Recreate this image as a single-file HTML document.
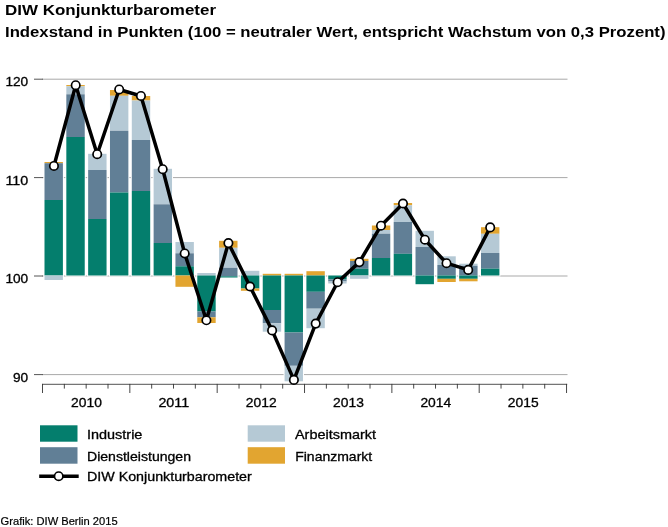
<!DOCTYPE html>
<html lang="de"><head><meta charset="utf-8"><title>DIW Konjunkturbarometer</title>
<style>html,body{margin:0;padding:0;background:#fff}svg{display:block}text{font-family:"Liberation Sans",sans-serif;fill:#000}</style></head><body>
<svg width="668" height="527" viewBox="0 0 668 527">
<rect width="668" height="527" fill="#fff"/>
<text x="5.0" y="15.1" font-size="14.9" font-weight="bold" textLength="211" lengthAdjust="spacingAndGlyphs">DIW Konjunkturbarometer</text>
<text x="5.0" y="36.6" font-size="14.9" font-weight="bold" textLength="660.5" lengthAdjust="spacingAndGlyphs">Indexstand in Punkten (100 = neutraler Wert, entspricht Wachstum von 0,3 Prozent)</text>
<line x1="42" x2="567.5" y1="79.2" y2="79.2" stroke="#a9a9a9" stroke-width="1"/>
<line x1="34" x2="43" y1="79.2" y2="79.2" stroke="#555" stroke-width="1"/>
<text x="5.4" y="86.1" font-size="12.7" stroke="#000" stroke-width="0.3" textLength="22.799999999999997" lengthAdjust="spacingAndGlyphs">120</text>
<line x1="42" x2="567.5" y1="177.6" y2="177.6" stroke="#a9a9a9" stroke-width="1"/>
<line x1="34" x2="43" y1="177.6" y2="177.6" stroke="#555" stroke-width="1"/>
<text x="5.4" y="184.5" font-size="12.7" stroke="#000" stroke-width="0.3" textLength="22.799999999999997" lengthAdjust="spacingAndGlyphs">110</text>
<line x1="42" x2="567.5" y1="276.0" y2="276.0" stroke="#a9a9a9" stroke-width="1"/>
<line x1="34" x2="43" y1="276.0" y2="276.0" stroke="#555" stroke-width="1"/>
<text x="5.4" y="282.9" font-size="12.7" stroke="#000" stroke-width="0.3" textLength="22.799999999999997" lengthAdjust="spacingAndGlyphs">100</text>
<line x1="42" x2="567.5" y1="374.6" y2="374.6" stroke="#a9a9a9" stroke-width="1"/>
<line x1="34" x2="43" y1="374.6" y2="374.6" stroke="#555" stroke-width="1"/>
<text x="13.0" y="381.5" font-size="12.7" stroke="#000" stroke-width="0.3" textLength="15.2" lengthAdjust="spacingAndGlyphs">90</text>
<rect x="43.50" y="161.00" width="20.40" height="120.00" fill="#fff"/>
<rect x="44.50" y="162.00" width="18.4" height="1.20" fill="#e2a530"/>
<rect x="44.50" y="163.20" width="18.4" height="36.80" fill="#617f96"/>
<rect x="44.50" y="200.00" width="18.4" height="75.50" fill="#047e6d"/>
<rect x="44.50" y="275.50" width="18.4" height="4.50" fill="#b5c9d5"/>
<rect x="65.33" y="84.00" width="20.40" height="192.50" fill="#fff"/>
<rect x="66.33" y="85.00" width="18.4" height="1.30" fill="#e2a530"/>
<rect x="66.33" y="86.30" width="18.4" height="8.00" fill="#b5c9d5"/>
<rect x="66.33" y="94.30" width="18.4" height="42.70" fill="#617f96"/>
<rect x="66.33" y="137.00" width="18.4" height="138.50" fill="#047e6d"/>
<rect x="87.15" y="152.80" width="20.40" height="123.70" fill="#fff"/>
<rect x="88.15" y="153.80" width="18.4" height="16.20" fill="#b5c9d5"/>
<rect x="88.15" y="170.00" width="18.4" height="49.00" fill="#617f96"/>
<rect x="88.15" y="219.00" width="18.4" height="56.50" fill="#047e6d"/>
<rect x="108.97" y="89.00" width="20.40" height="187.50" fill="#fff"/>
<rect x="109.97" y="90.00" width="18.4" height="5.80" fill="#e2a530"/>
<rect x="109.97" y="95.80" width="18.4" height="35.00" fill="#b5c9d5"/>
<rect x="109.97" y="130.80" width="18.4" height="61.70" fill="#617f96"/>
<rect x="109.97" y="192.50" width="18.4" height="83.00" fill="#047e6d"/>
<rect x="130.80" y="95.00" width="20.40" height="181.50" fill="#fff"/>
<rect x="131.80" y="96.00" width="18.4" height="4.50" fill="#e2a530"/>
<rect x="131.80" y="100.50" width="18.4" height="39.50" fill="#b5c9d5"/>
<rect x="131.80" y="140.00" width="18.4" height="51.00" fill="#617f96"/>
<rect x="131.80" y="191.00" width="18.4" height="84.50" fill="#047e6d"/>
<rect x="152.62" y="167.80" width="20.40" height="108.70" fill="#fff"/>
<rect x="153.62" y="168.80" width="18.4" height="35.50" fill="#b5c9d5"/>
<rect x="153.62" y="204.30" width="18.4" height="38.70" fill="#617f96"/>
<rect x="153.62" y="243.00" width="18.4" height="32.50" fill="#047e6d"/>
<rect x="174.45" y="241.00" width="20.40" height="46.80" fill="#fff"/>
<rect x="175.45" y="242.00" width="18.4" height="11.30" fill="#b5c9d5"/>
<rect x="175.45" y="253.30" width="18.4" height="13.00" fill="#617f96"/>
<rect x="175.45" y="266.30" width="18.4" height="9.20" fill="#047e6d"/>
<rect x="175.45" y="275.50" width="18.4" height="11.30" fill="#e2a530"/>
<rect x="196.28" y="272.00" width="20.40" height="52.00" fill="#fff"/>
<rect x="197.28" y="273.00" width="18.4" height="2.50" fill="#b5c9d5"/>
<rect x="197.28" y="275.50" width="18.4" height="36.00" fill="#047e6d"/>
<rect x="197.28" y="311.50" width="18.4" height="5.80" fill="#617f96"/>
<rect x="197.28" y="317.30" width="18.4" height="5.70" fill="#e2a530"/>
<rect x="218.10" y="239.80" width="20.40" height="38.70" fill="#fff"/>
<rect x="219.10" y="240.80" width="18.4" height="7.00" fill="#e2a530"/>
<rect x="219.10" y="247.80" width="18.4" height="20.00" fill="#b5c9d5"/>
<rect x="219.10" y="267.80" width="18.4" height="8.50" fill="#617f96"/>
<rect x="219.10" y="276.30" width="18.4" height="1.20" fill="#047e6d"/>
<rect x="239.92" y="269.80" width="20.40" height="22.00" fill="#fff"/>
<rect x="240.92" y="270.80" width="18.4" height="4.70" fill="#b5c9d5"/>
<rect x="240.92" y="275.50" width="18.4" height="13.00" fill="#047e6d"/>
<rect x="240.92" y="288.50" width="18.4" height="2.30" fill="#e2a530"/>
<rect x="261.75" y="272.80" width="20.40" height="59.90" fill="#fff"/>
<rect x="262.75" y="273.80" width="18.4" height="1.70" fill="#e2a530"/>
<rect x="262.75" y="275.50" width="18.4" height="34.50" fill="#047e6d"/>
<rect x="262.75" y="310.00" width="18.4" height="13.30" fill="#617f96"/>
<rect x="262.75" y="323.30" width="18.4" height="8.40" fill="#b5c9d5"/>
<rect x="283.57" y="272.80" width="20.40" height="109.50" fill="#fff"/>
<rect x="284.57" y="273.80" width="18.4" height="1.70" fill="#e2a530"/>
<rect x="284.57" y="275.50" width="18.4" height="57.00" fill="#047e6d"/>
<rect x="284.57" y="332.50" width="18.4" height="33.30" fill="#617f96"/>
<rect x="284.57" y="365.80" width="18.4" height="15.50" fill="#b5c9d5"/>
<rect x="305.40" y="270.20" width="20.40" height="59.00" fill="#fff"/>
<rect x="306.40" y="271.20" width="18.4" height="4.30" fill="#e2a530"/>
<rect x="306.40" y="275.50" width="18.4" height="16.30" fill="#047e6d"/>
<rect x="306.40" y="291.80" width="18.4" height="16.90" fill="#617f96"/>
<rect x="306.40" y="308.70" width="18.4" height="19.50" fill="#b5c9d5"/>
<rect x="327.22" y="274.50" width="20.40" height="10.00" fill="#fff"/>
<rect x="328.22" y="275.50" width="18.4" height="3.90" fill="#047e6d"/>
<rect x="328.22" y="279.40" width="18.4" height="2.10" fill="#617f96"/>
<rect x="328.22" y="281.50" width="18.4" height="2.00" fill="#b5c9d5"/>
<rect x="349.05" y="257.80" width="20.40" height="22.00" fill="#fff"/>
<rect x="350.05" y="258.80" width="18.4" height="2.20" fill="#e2a530"/>
<rect x="350.05" y="261.00" width="18.4" height="7.80" fill="#617f96"/>
<rect x="350.05" y="268.80" width="18.4" height="6.70" fill="#047e6d"/>
<rect x="350.05" y="275.50" width="18.4" height="3.30" fill="#b5c9d5"/>
<rect x="370.88" y="224.50" width="20.40" height="52.00" fill="#fff"/>
<rect x="371.88" y="225.50" width="18.4" height="4.50" fill="#e2a530"/>
<rect x="371.88" y="230.00" width="18.4" height="3.70" fill="#b5c9d5"/>
<rect x="371.88" y="233.70" width="18.4" height="24.30" fill="#617f96"/>
<rect x="371.88" y="258.00" width="18.4" height="17.50" fill="#047e6d"/>
<rect x="392.70" y="202.00" width="20.40" height="74.50" fill="#fff"/>
<rect x="393.70" y="203.00" width="18.4" height="2.30" fill="#e2a530"/>
<rect x="393.70" y="205.30" width="18.4" height="16.70" fill="#b5c9d5"/>
<rect x="393.70" y="222.00" width="18.4" height="31.80" fill="#617f96"/>
<rect x="393.70" y="253.80" width="18.4" height="21.70" fill="#047e6d"/>
<rect x="414.52" y="229.80" width="20.40" height="55.40" fill="#fff"/>
<rect x="415.52" y="230.80" width="18.4" height="16.20" fill="#b5c9d5"/>
<rect x="415.52" y="247.00" width="18.4" height="28.50" fill="#617f96"/>
<rect x="415.52" y="275.50" width="18.4" height="8.70" fill="#047e6d"/>
<rect x="436.35" y="255.30" width="20.40" height="27.70" fill="#fff"/>
<rect x="437.35" y="256.30" width="18.4" height="8.70" fill="#b5c9d5"/>
<rect x="437.35" y="265.00" width="18.4" height="10.50" fill="#617f96"/>
<rect x="437.35" y="275.50" width="18.4" height="3.30" fill="#047e6d"/>
<rect x="437.35" y="278.80" width="18.4" height="3.20" fill="#e2a530"/>
<rect x="458.18" y="262.70" width="20.40" height="19.60" fill="#fff"/>
<rect x="459.18" y="263.70" width="18.4" height="2.10" fill="#b5c9d5"/>
<rect x="459.18" y="265.80" width="18.4" height="9.70" fill="#617f96"/>
<rect x="459.18" y="275.50" width="18.4" height="3.30" fill="#047e6d"/>
<rect x="459.18" y="278.80" width="18.4" height="2.50" fill="#e2a530"/>
<rect x="480.00" y="226.20" width="20.40" height="50.30" fill="#fff"/>
<rect x="481.00" y="227.20" width="18.4" height="6.60" fill="#e2a530"/>
<rect x="481.00" y="233.80" width="18.4" height="19.20" fill="#b5c9d5"/>
<rect x="481.00" y="253.00" width="18.4" height="15.70" fill="#617f96"/>
<rect x="481.00" y="268.70" width="18.4" height="6.80" fill="#047e6d"/>
<line x1="42" x2="567.2" y1="384.3" y2="384.3" stroke="#333" stroke-width="0.85"/>
<line x1="42.50" x2="42.50" y1="383.9" y2="393" stroke="#333" stroke-width="0.9"/>
<line x1="64.34" x2="64.34" y1="383.9" y2="388.6" stroke="#333" stroke-width="0.9"/>
<line x1="86.17" x2="86.17" y1="383.9" y2="388.6" stroke="#333" stroke-width="0.9"/>
<line x1="108.00" x2="108.00" y1="383.9" y2="388.6" stroke="#333" stroke-width="0.9"/>
<line x1="129.84" x2="129.84" y1="383.9" y2="393" stroke="#333" stroke-width="0.9"/>
<line x1="151.68" x2="151.68" y1="383.9" y2="388.6" stroke="#333" stroke-width="0.9"/>
<line x1="173.51" x2="173.51" y1="383.9" y2="388.6" stroke="#333" stroke-width="0.9"/>
<line x1="195.34" x2="195.34" y1="383.9" y2="388.6" stroke="#333" stroke-width="0.9"/>
<line x1="217.18" x2="217.18" y1="383.9" y2="393" stroke="#333" stroke-width="0.9"/>
<line x1="239.02" x2="239.02" y1="383.9" y2="388.6" stroke="#333" stroke-width="0.9"/>
<line x1="260.85" x2="260.85" y1="383.9" y2="388.6" stroke="#333" stroke-width="0.9"/>
<line x1="282.69" x2="282.69" y1="383.9" y2="388.6" stroke="#333" stroke-width="0.9"/>
<line x1="304.52" x2="304.52" y1="383.9" y2="393" stroke="#333" stroke-width="0.9"/>
<line x1="326.36" x2="326.36" y1="383.9" y2="388.6" stroke="#333" stroke-width="0.9"/>
<line x1="348.19" x2="348.19" y1="383.9" y2="388.6" stroke="#333" stroke-width="0.9"/>
<line x1="370.03" x2="370.03" y1="383.9" y2="388.6" stroke="#333" stroke-width="0.9"/>
<line x1="391.86" x2="391.86" y1="383.9" y2="393" stroke="#333" stroke-width="0.9"/>
<line x1="413.69" x2="413.69" y1="383.9" y2="388.6" stroke="#333" stroke-width="0.9"/>
<line x1="435.53" x2="435.53" y1="383.9" y2="388.6" stroke="#333" stroke-width="0.9"/>
<line x1="457.37" x2="457.37" y1="383.9" y2="388.6" stroke="#333" stroke-width="0.9"/>
<line x1="479.20" x2="479.20" y1="383.9" y2="393" stroke="#333" stroke-width="0.9"/>
<line x1="501.04" x2="501.04" y1="383.9" y2="388.6" stroke="#333" stroke-width="0.9"/>
<line x1="522.87" x2="522.87" y1="383.9" y2="388.6" stroke="#333" stroke-width="0.9"/>
<line x1="544.71" x2="544.71" y1="383.9" y2="388.6" stroke="#333" stroke-width="0.9"/>
<line x1="566.54" x2="566.54" y1="383.9" y2="393" stroke="#333" stroke-width="0.9"/>
<text x="71.1" y="406.8" font-size="12.7" stroke="#000" stroke-width="0.3" textLength="30.8" lengthAdjust="spacingAndGlyphs">2010</text>
<text x="158.4" y="406.8" font-size="12.7" stroke="#000" stroke-width="0.3" textLength="30.8" lengthAdjust="spacingAndGlyphs">2011</text>
<text x="245.8" y="406.8" font-size="12.7" stroke="#000" stroke-width="0.3" textLength="30.8" lengthAdjust="spacingAndGlyphs">2012</text>
<text x="333.1" y="406.8" font-size="12.7" stroke="#000" stroke-width="0.3" textLength="30.8" lengthAdjust="spacingAndGlyphs">2013</text>
<text x="420.4" y="406.8" font-size="12.7" stroke="#000" stroke-width="0.3" textLength="30.8" lengthAdjust="spacingAndGlyphs">2014</text>
<text x="507.8" y="406.8" font-size="12.7" stroke="#000" stroke-width="0.3" textLength="30.8" lengthAdjust="spacingAndGlyphs">2015</text>
<path d="M53.95,165.95 L75.70,85.20 L97.20,154.20 L119.20,89.45 L140.95,95.95 L162.70,169.20 L184.70,253.45 L206.40,320.30 L228.40,243.10 L250.00,286.50 L272.10,330.40 L293.90,379.90 L315.70,323.60 L337.60,282.20 L359.40,262.10 L381.00,225.70 L403.00,203.50 L424.90,239.70 L446.50,263.20 L468.20,269.90 L490.20,227.40" fill="none" stroke="#000" stroke-width="3.5" stroke-linejoin="round"/>
<circle cx="53.95" cy="165.95" r="4.2" fill="#fff" stroke="#000" stroke-width="1.7"/>
<circle cx="75.70" cy="85.20" r="4.2" fill="#fff" stroke="#000" stroke-width="1.7"/>
<circle cx="97.20" cy="154.20" r="4.2" fill="#fff" stroke="#000" stroke-width="1.7"/>
<circle cx="119.20" cy="89.45" r="4.2" fill="#fff" stroke="#000" stroke-width="1.7"/>
<circle cx="140.95" cy="95.95" r="4.2" fill="#fff" stroke="#000" stroke-width="1.7"/>
<circle cx="162.70" cy="169.20" r="4.2" fill="#fff" stroke="#000" stroke-width="1.7"/>
<circle cx="184.70" cy="253.45" r="4.2" fill="#fff" stroke="#000" stroke-width="1.7"/>
<circle cx="206.40" cy="320.30" r="4.2" fill="#fff" stroke="#000" stroke-width="1.7"/>
<circle cx="228.40" cy="243.10" r="4.2" fill="#fff" stroke="#000" stroke-width="1.7"/>
<circle cx="250.00" cy="286.50" r="4.2" fill="#fff" stroke="#000" stroke-width="1.7"/>
<circle cx="272.10" cy="330.40" r="4.2" fill="#fff" stroke="#000" stroke-width="1.7"/>
<circle cx="293.90" cy="379.90" r="4.2" fill="#fff" stroke="#000" stroke-width="1.7"/>
<circle cx="315.70" cy="323.60" r="4.2" fill="#fff" stroke="#000" stroke-width="1.7"/>
<circle cx="337.60" cy="282.20" r="4.2" fill="#fff" stroke="#000" stroke-width="1.7"/>
<circle cx="359.40" cy="262.10" r="4.2" fill="#fff" stroke="#000" stroke-width="1.7"/>
<circle cx="381.00" cy="225.70" r="4.2" fill="#fff" stroke="#000" stroke-width="1.7"/>
<circle cx="403.00" cy="203.50" r="4.2" fill="#fff" stroke="#000" stroke-width="1.7"/>
<circle cx="424.90" cy="239.70" r="4.2" fill="#fff" stroke="#000" stroke-width="1.7"/>
<circle cx="446.50" cy="263.20" r="4.2" fill="#fff" stroke="#000" stroke-width="1.7"/>
<circle cx="468.20" cy="269.90" r="4.2" fill="#fff" stroke="#000" stroke-width="1.7"/>
<circle cx="490.20" cy="227.40" r="4.2" fill="#fff" stroke="#000" stroke-width="1.7"/>
<rect x="40" y="425.3" width="37.5" height="16.4" fill="#047e6d"/>
<rect x="40" y="447.2" width="37.5" height="16.5" fill="#617f96"/>
<rect x="247.7" y="425.3" width="37.3" height="16.4" fill="#b5c9d5"/>
<rect x="247.7" y="447.2" width="37.3" height="16.5" fill="#e2a530"/>
<line x1="39.2" x2="78.7" y1="476.2" y2="476.2" stroke="#000" stroke-width="3.5"/>
<circle cx="58.7" cy="476.2" r="4.2" fill="#fff" stroke="#000" stroke-width="1.7"/>
<text x="87.0" y="438.9" font-size="12.7" stroke="#000" stroke-width="0.3" textLength="55.4" lengthAdjust="spacingAndGlyphs">Industrie</text>
<text x="87.0" y="461" font-size="12.7" stroke="#000" stroke-width="0.3" textLength="104" lengthAdjust="spacingAndGlyphs">Dienstleistungen</text>
<text x="87.0" y="481.4" font-size="12.7" stroke="#000" stroke-width="0.3" textLength="164.8" lengthAdjust="spacingAndGlyphs">DIW Konjunkturbarometer</text>
<text x="295.0" y="438.9" font-size="12.7" stroke="#000" stroke-width="0.3" textLength="81" lengthAdjust="spacingAndGlyphs">Arbeitsmarkt</text>
<text x="295.2" y="461" font-size="12.7" stroke="#000" stroke-width="0.3" textLength="77" lengthAdjust="spacingAndGlyphs">Finanzmarkt</text>
<text x="0.6" y="524.7" font-size="11" stroke="#000" stroke-width="0.2" textLength="117" lengthAdjust="spacingAndGlyphs">Grafik: DIW Berlin 2015</text>
</svg></body></html>
